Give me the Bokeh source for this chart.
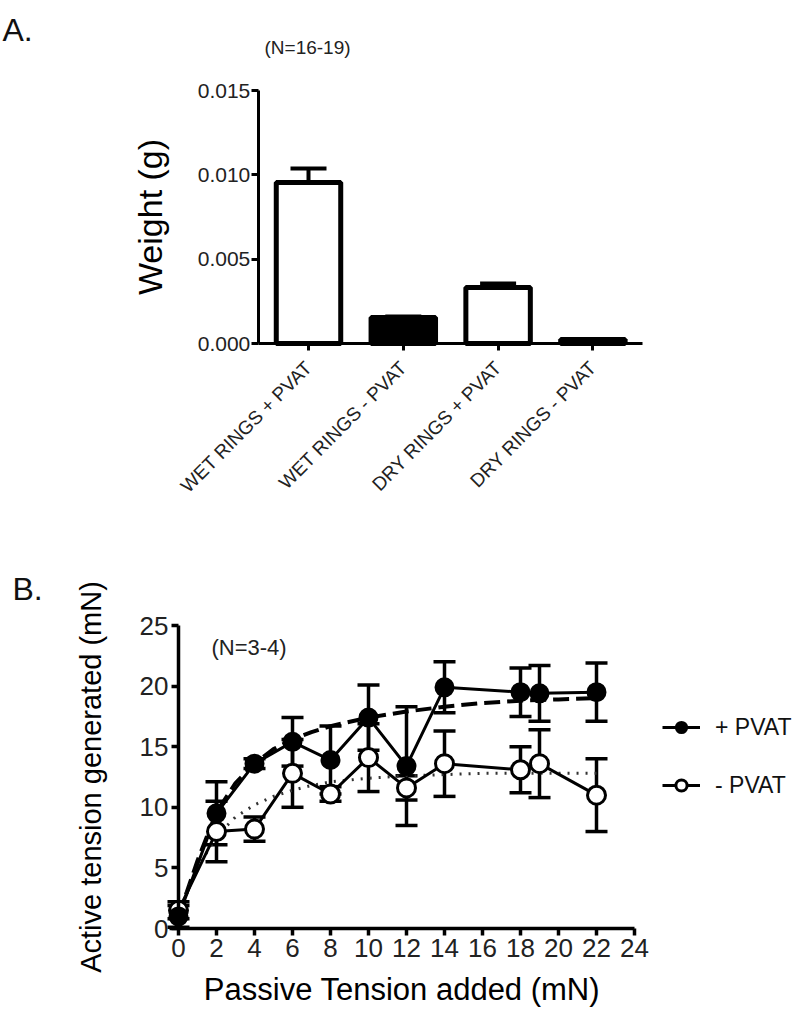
import math
from bokeh.plotting import figure
from bokeh.models import (ColumnDataSource, Whisker, TeeHead, Label, FixedTicker,
                          Legend, LegendItem, Range1d)
from bokeh.layouts import column
from bokeh.embed import file_html
from bokeh.resources import INLINE

FONT = "Liberation Sans"

# ---------------- Panel A data ----------------
groups = ["WET RINGS + PVAT", "WET RINGS - PVAT", "DRY RINGS + PVAT", "DRY RINGS - PVAT"]
pvat = ["+", "-", "+", "-"]
weight_mean = [0.00955, 0.00154, 0.00332, 0.00024]
weight_sem = [0.00083, 0.00006, 0.00024, 0.00002]
weight_ticks = [0.0, 0.005, 0.010, 0.015]
weight_tick_labels = ["0.000", "0.005", "0.010", "0.015"]

# ---------------- Panel B data ----------------
passive = [0, 2, 4, 6, 8, 10, 12, 14, 18, 19, 22]
plus_mean = [1.0, 9.5, 13.6, 15.4, 13.9, 17.4, 13.4, 19.9, 19.5, 19.4, 19.5]
plus_sem = [0.9, 2.6, 0.4, 2.0, 2.8, 2.7, 4.9, 2.1, 2.0, 2.3, 2.4]
minus_mean = [1.5, 8.0, 8.2, 12.8, 11.1, 14.1, 11.6, 13.6, 13.1, 13.6, 11.0]
minus_sem = [0.7, 2.5, 1.0, 2.8, 0.6, 2.8, 1.0, 2.7, 1.9, 2.8, 3.0]
fit_x = [0, 1, 2, 3, 4, 5, 6, 7, 8, 10, 12, 14, 16, 18, 20, 22]
plus_fit = [1.0, 5.6, 9.6, 12.0, 13.6, 14.8, 15.6, 16.2, 16.7, 17.4, 17.9, 18.3, 18.6, 18.8, 18.9, 19.0]
minus_fit = [1.5, 5.0, 7.6, 9.2, 10.2, 10.9, 11.4, 11.8, 12.1, 12.4, 12.6, 12.7, 12.8, 12.8, 12.8, 12.8]
b_xticks = [0, 2, 4, 6, 8, 10, 12, 14, 16, 18, 20, 22, 24]
b_yticks = [0, 5, 10, 15, 20, 25]

W = 800
HA, HB = 548, 471


def style_axes(p, lw):
    for ax in (p.xaxis[0], p.yaxis[0]):
        ax.axis_line_width = lw
        ax.major_tick_line_width = lw
        ax.major_tick_out = 7
        ax.major_tick_in = 0
        ax.minor_tick_out = 0
        ax.minor_tick_in = 0
        ax.major_label_text_font = FONT
        ax.axis_label_text_font = FONT
        ax.axis_label_text_font_style = "normal"
        ax.major_label_text_color = "#222222"
        ax.axis_label_text_color = "black"
    p.xgrid.grid_line_color = None
    p.ygrid.grid_line_color = None
    p.outline_line_color = None


# ================= Panel A =================
# frame covers the whole figure; axes are placed with fixed_location
a_cat_px = 94.8            # pixels per category
a_x0 = 308                 # figure x of category 0
a_ypx = 253 / 0.015        # pixels per gram
a_y0 = 343                 # figure y of weight 0
xs = list(range(len(groups)))
srcA = ColumnDataSource(dict(
    x=xs, top=weight_mean,
    upper=[m + s for m, s in zip(weight_mean, weight_sem)],
    fill=["white" if g == "+" else "black" for g in pvat],
))

pA = figure(width=W, height=HA,
            x_range=Range1d(-a_x0 / a_cat_px, (W - a_x0) / a_cat_px),
            y_range=Range1d(-(HA - a_y0) / a_ypx, a_y0 / a_ypx),
            output_backend="svg", toolbar_location=None,
            min_border_left=0, min_border_right=0, min_border_top=0, min_border_bottom=0)
pA.background_fill_color = "white"
style_axes(pA, 3)

wA = Whisker(base="x", lower="top", upper="upper", source=srcA, line_width=4, line_color="black",
             upper_head=TeeHead(size=36, line_width=4, line_color="black"), lower_head=None)
wA.level = "underlay"
pA.add_layout(wA)
pA.vbar(x="x", top="top", width=0.68, source=srcA, fill_color="fill", line_color="black", line_width=5)

pA.yaxis.fixed_location = -0.53
pA.yaxis.bounds = (0, 0.015)
pA.xaxis.fixed_location = 0
pA.xaxis.bounds = (-0.53, 3.52)

pA.yaxis.ticker = FixedTicker(ticks=weight_ticks)
pA.yaxis.major_label_overrides = {t: l for t, l in zip(weight_ticks, weight_tick_labels)}
pA.yaxis.major_label_text_font_size = "21px"
pA.yaxis.major_label_standoff = 1
pA.yaxis.axis_label = "Weight (g)"
pA.yaxis.axis_label_text_font_size = "34px"
pA.yaxis.axis_label_standoff = 26

pA.xaxis.ticker = FixedTicker(ticks=xs)
pA.xaxis.major_label_overrides = {i: g for i, g in zip(xs, groups)}
pA.xaxis.major_label_orientation = math.pi / 4
pA.xaxis.major_label_text_font_size = "19px"
pA.xaxis.major_label_standoff = 14

pA.add_layout(Label(x=2, y=HA - 29, x_units="screen", y_units="screen", text="A.",
                    text_font=FONT, text_font_size="32px", text_baseline="alphabetic", text_color="#111111"))
pA.add_layout(Label(x=264, y=HA - 47, x_units="screen", y_units="screen", text="(N=16-19)",
                    text_font=FONT, text_font_size="19px", text_baseline="middle", text_color="#222222"))

# ================= Panel B =================
b_xpx = 19.0               # pixels per mN (x)
b_x0 = 178                 # figure x of passive 0
b_ypx = 303 / 25           # pixels per mN (y)
b_y0 = 380                 # figure y of active 0
pB = figure(width=W, height=HB,
            x_range=Range1d(-b_x0 / b_xpx, (W - b_x0) / b_xpx),
            y_range=Range1d(-(HB - b_y0) / b_ypx, b_y0 / b_ypx),
            output_backend="svg", toolbar_location=None,
            min_border_left=0, min_border_right=0, min_border_top=0, min_border_bottom=0)
pB.background_fill_color = "white"
style_axes(pB, 3.5)

srcP = ColumnDataSource(dict(x=passive, y=plus_mean,
                             lo=[m - s for m, s in zip(plus_mean, plus_sem)],
                             hi=[m + s for m, s in zip(plus_mean, plus_sem)]))
srcM = ColumnDataSource(dict(x=passive, y=minus_mean,
                             lo=[m - s for m, s in zip(minus_mean, minus_sem)],
                             hi=[m + s for m, s in zip(minus_mean, minus_sem)]))

pB.line(fit_x, plus_fit, line_color="black", line_width=4, line_dash="16 7")
pB.line(fit_x, minus_fit, line_color="#333333", line_width=3, line_dash="2 7")

for src in (srcM, srcP):
    w = Whisker(base="x", lower="lo", upper="hi", source=src, line_width=3.5, line_color="black",
                upper_head=TeeHead(size=22, line_width=3.5, line_color="black"),
                lower_head=TeeHead(size=22, line_width=3.5, line_color="black"))
    w.level = "underlay"
    pB.add_layout(w)

lm = pB.line("x", "y", source=srcM, line_color="black", line_width=3)
lp = pB.line("x", "y", source=srcP, line_color="black", line_width=3)
sm = pB.scatter("x", "y", source=srcM, marker="circle", size=18, fill_color="white",
                line_color="black", line_width=3)
sp = pB.scatter("x", "y", source=srcP, marker="circle", size=18, fill_color="black",
                line_color="black", line_width=2)

pB.xaxis.ticker = FixedTicker(ticks=b_xticks)
pB.yaxis.ticker = FixedTicker(ticks=b_yticks)
pB.xaxis.fixed_location = 0
pB.yaxis.fixed_location = 0
pB.xaxis.bounds = (-0.45, 24)
pB.yaxis.bounds = (0, 25)
pB.xaxis.major_label_text_font_size = "26px"
pB.yaxis.major_label_text_font_size = "26px"
pB.xaxis.major_label_standoff = 3
pB.yaxis.major_label_standoff = 3
pB.xaxis.axis_label = "Passive Tension added (mN)"
pB.yaxis.axis_label = "Active tension generated (mN)"
pB.xaxis.axis_label_text_font_size = "31px"
pB.yaxis.axis_label_text_font_size = "29px"
pB.xaxis.axis_label_standoff = 12
pB.yaxis.axis_label_standoff = 30

legend = Legend(items=[LegendItem(label="+ PVAT", renderers=[lp, sp]),
                       LegendItem(label="- PVAT", renderers=[lm, sm])],
                location=(662, HB - 251), orientation="vertical")
legend.border_line_color = None
legend.background_fill_alpha = 0
legend.label_text_font = FONT
legend.label_text_font_size = "23px"
legend.label_text_color = "#111111"
legend.glyph_width = 38
legend.glyph_height = 28
legend.label_height = 28
legend.spacing = 30
legend.padding = 0
legend.margin = 0
legend.label_standoff = 15
pB.add_layout(legend)

pB.add_layout(Label(x=12, y=HB - 40, x_units="screen", y_units="screen", text="B.",
                    text_font=FONT, text_font_size="32px", text_baseline="alphabetic", text_color="#111111"))
pB.add_layout(Label(x=211, y=HB - 99, x_units="screen", y_units="screen", text="(N=3-4)",
                    text_font=FONT, text_font_size="22px", text_baseline="middle", text_color="#222222"))

layout = column(pA, pB, spacing=0)
open("out.html", "w").write(file_html(layout, INLINE))
